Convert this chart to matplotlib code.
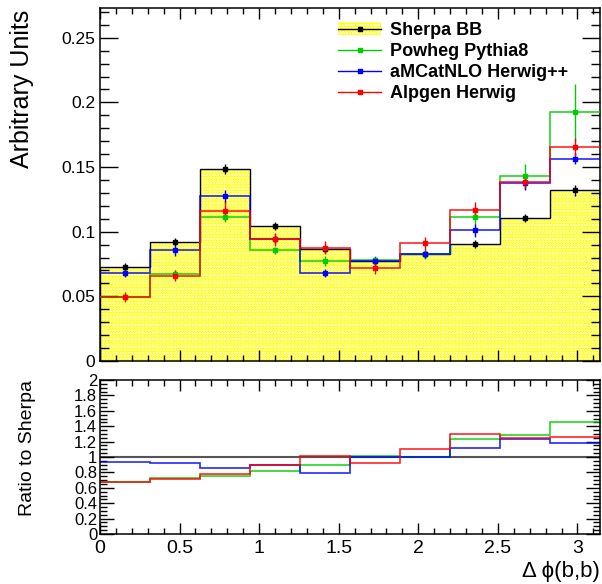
import numpy as np
import matplotlib
matplotlib.use("Agg")
from matplotlib import pyplot as plt
from matplotlib.patches import Patch
from matplotlib.lines import Line2D
from matplotlib.ticker import MultipleLocator, FormatStrFormatter

plt.rcParams['font.family'] = ['Liberation Sans', 'DejaVu Sans']
plt.rcParams['hatch.linewidth'] = 1.2

# delta phi(b,b) binning: 10 bins from 0 to pi
edges = np.linspace(0, np.pi, 11)
centers = 0.5 * (edges[1:] + edges[:-1])

sherpa = [0.0729, 0.0922, 0.1486, 0.1046, 0.0863, 0.0773, 0.0824, 0.0902, 0.1108, 0.1319]
sherpa_err = [0.003, 0.003, 0.004, 0.003, 0.003, 0.003, 0.003, 0.003, 0.003, 0.004]
powheg = [0.0497, 0.0672, 0.1115, 0.0855, 0.0775, 0.0780, 0.0826, 0.1115, 0.1427, 0.1922]
powheg_err = [0.003, 0.003, 0.004, 0.003, 0.004, 0.003, 0.004, 0.006, 0.0097, 0.0224]
amcatnlo = [0.0678, 0.0855, 0.1275, 0.0943, 0.0682, 0.0771, 0.0824, 0.1010, 0.1373, 0.1566]
amcatnlo_err = [0.003, 0.004, 0.005, 0.004, 0.003, 0.003, 0.003, 0.005, 0.005, 0.0043]
alpgen = [0.0497, 0.0660, 0.1159, 0.0943, 0.0876, 0.0716, 0.0912, 0.1169, 0.1386, 0.1654]
alpgen_err = [0.004, 0.004, 0.007, 0.005, 0.005, 0.004, 0.005, 0.006, 0.005, 0.0068]

labels = ['Sherpa BB', 'Powheg Pythia8', 'aMCatNLO Herwig++', 'Alpgen Herwig']
colors = ['black', '#00cc00', '#0000ff', '#ff0000']

fig = plt.figure(figsize=(6.02, 5.84), dpi=100)
W, H = 602.0, 584.0
ax = fig.add_axes([100 / W, 1 - 361 / H, 500 / W, 353 / H])
rax = fig.add_axes([100 / W, 1 - 534 / H, 500 / W, 154 / H])

# sherpa histogram: dotted yellow fill plus black outline
ax.stairs(sherpa, edges, fill=True, facecolor='#ffff00', edgecolor='white',
          hatch='......', linewidth=0, zorder=1)
ax.stairs(sherpa, edges, color='black', linewidth=1.0, baseline=0, zorder=2)

mc = [(powheg, powheg_err), (amcatnlo, amcatnlo_err), (alpgen, alpgen_err)]
for (vals, errs), c in zip(mc, colors[1:]):
    ax.stairs(vals, edges, color=c, linewidth=1.2, baseline=None, alpha=0.85, zorder=3)

for (vals, errs), c in zip([(sherpa, sherpa_err)] + mc, colors):
    ax.errorbar(centers, vals, yerr=errs, fmt='s', color=c, ms=3.5, elinewidth=1.0,
                capsize=0, zorder=4)

ax.set_xlim(0, np.pi)
ax.set_ylim(0, 0.273)
ax.xaxis.set_major_locator(MultipleLocator(0.5))
ax.xaxis.set_minor_locator(MultipleLocator(0.1))
ax.yaxis.set_major_locator(MultipleLocator(0.05))
ax.yaxis.set_minor_locator(MultipleLocator(0.01))
ax.yaxis.set_major_formatter(FormatStrFormatter('%g'))
ax.tick_params(axis='x', labelbottom=False)

# ratio panel
ratios = [np.array(v) / np.array(sherpa) for v, _ in mc]
rax.axhline(1.0, color='#555555', linewidth=1.5, zorder=1)
for r, c in zip(ratios, colors[1:]):
    rax.stairs(r, edges, color=c, linewidth=1.2, baseline=None, alpha=0.85, zorder=2)
rax.set_xlim(0, np.pi)
rax.set_ylim(0, 2)
rax.xaxis.set_major_locator(MultipleLocator(0.5))
rax.xaxis.set_minor_locator(MultipleLocator(0.1))
rax.yaxis.set_major_locator(MultipleLocator(0.2))
rax.yaxis.set_minor_locator(MultipleLocator(0.05))
rax.xaxis.set_major_formatter(FormatStrFormatter('%g'))
rax.yaxis.set_major_formatter(FormatStrFormatter('%g'))

for a in (ax, rax):
    for s in a.spines.values():
        s.set_linewidth(1.1)
    a.tick_params(which='both', direction='in', top=True, right=True, width=1.0)
    a.tick_params(axis='x', which='major', length=8, labelsize=14, pad=4)
    a.tick_params(axis='x', which='minor', length=4)
ax.tick_params(axis='y', which='major', length=13, labelsize=12.5)
ax.tick_params(axis='y', which='minor', length=6.5)
rax.tick_params(axis='y', which='major', length=10, labelsize=12, pad=2)
rax.tick_params(axis='y', which='minor', length=5)

fig.text(22 / W, 1 - 10 / H, 'Arbitrary Units', rotation=90, ha='center', va='top', fontsize=18)
fig.text(28 / W, 1 - 380 / H, 'Ratio to Sherpa', rotation=90, ha='center', va='top', fontsize=14)
fig.text(600 / W, 1 - 582 / H, '\u0394 \u03d5(b,b)', ha='right', va='bottom', fontsize=16,
         family=['Liberation Sans', 'DejaVu Sans'])

handles = [(Patch(facecolor='#ffff00', edgecolor='white', hatch='......', linewidth=0),
            Line2D([], [], color='black', marker='s', ms=3.5, lw=1.0))]
for c in colors[1:]:
    handles.append(Line2D([], [], color=c, marker='s', ms=3.5, lw=1.0))
ax.legend(handles, labels, loc='upper left', bbox_to_anchor=(338 / W, 1 - 22 / H),
          bbox_transform=fig.transFigure, frameon=False, prop={'weight': 'bold', 'size': 13},
          handlelength=2.4, handletextpad=0.5, labelspacing=0.22, borderpad=0, borderaxespad=0)

fig.savefig('out.png', dpi=100)
